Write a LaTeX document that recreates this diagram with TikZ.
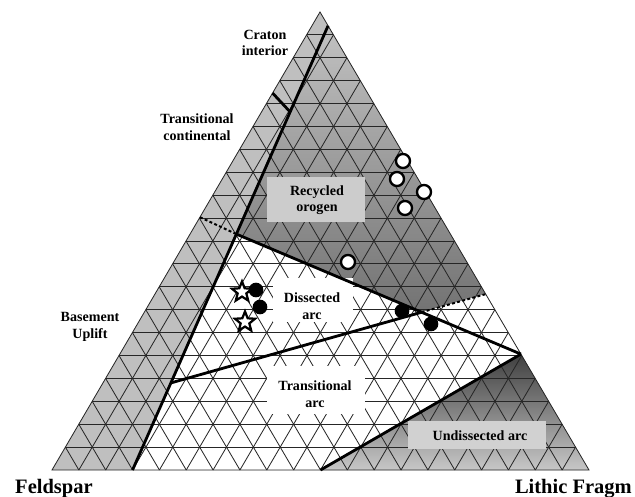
\documentclass[tikz,border=0pt]{standalone}
\usepackage{fontspec}
\setmainfont{Liberation Serif}
\usetikzlibrary{shapes.geometric,calc}
\begin{document}
\begin{tikzpicture}[x=0.03cm,y=-0.03cm,
  grid/.style={black!85,line width=0.7pt},
  bnd/.style={line width=2.4pt},
  dsh/.style={line width=1.7pt,dash pattern=on 2.5pt off 2pt},
  lab/.style={font=\bfseries\fontsize{12}{14}\selectfont,align=center,inner sep=1pt},
  big/.style={font=\bfseries\fontsize{17.5}{18}\selectfont,inner sep=0pt},
  box/.style={inner sep=0pt},
  opn/.style={circle,draw,fill=white,line width=2pt,minimum size=12pt,inner sep=0pt},
  ful/.style={circle,fill=black,minimum size=12.5pt,inner sep=0pt},
  str/.style={star,star points=5,star point ratio=2.3,draw,fill=white,line width=1.9pt,minimum size=18pt,inner sep=0pt}]
\useasboundingbox (0,0) rectangle (635,497);
\coordinate (F) at (52,470);
\coordinate (L) at (589,470);
\coordinate (Q) at (320,12);
\coordinate (thkB) at (barycentric cs:F=0.85,L=0.15);
\coordinate (thkT) at (barycentric cs:L=0.03,Q=0.97);
\coordinate (p1) at ($(thkB)!0.531!(thkT)$);
\coordinate (p2) at ($(thkB)!0.196!(thkT)$);
\coordinate (tk1) at (barycentric cs:F=0.177,Q=0.823);
\coordinate (tk2) at ($(thkB)!0.806!(thkT)$);
\coordinate (d1) at (barycentric cs:F=0.448,Q=0.552);
\coordinate (R2) at (barycentric cs:L=0.616,Q=0.384);
\coordinate (arcR) at (barycentric cs:L=0.747,Q=0.253);
\coordinate (U) at (barycentric cs:F=0.5,L=0.5);
\coordinate (X) at (intersection of p1--arcR and p2--R2);
\fill[black!25] (F) -- (L) -- (Q) -- cycle;
\shade[top color=black!24,bottom color=black!55] (thkT) -- (p1) -- (X) -- (R2) -- cycle;
\fill[white] (p1) -- (X) -- (R2) -- (arcR) -- (U) -- (thkB) -- cycle;
\shade[top color=black!75,bottom color=black!22] (arcR) -- (L) -- (U) -- cycle;
\foreach \i in {1,...,19}{
  \pgfmathsetmacro\a{\i/20}
  \pgfmathsetmacro\b{1-\i/20}
  \draw[grid] (barycentric cs:F=\b,Q=\a) -- (barycentric cs:L=\b,Q=\a);
  \draw[grid] (barycentric cs:F=\b,L=\a) -- (barycentric cs:Q=\b,L=\a);
  \draw[grid] (barycentric cs:L=\b,F=\a) -- (barycentric cs:Q=\b,F=\a);
}
\draw[grid] (F) -- (L) -- (Q) -- cycle;
\node[box,fill=black!20,minimum width=98*0.85pt,minimum height=45*0.85pt] (recbox) at (316,199.5) {};
\node[box,fill=white,minimum width=80*0.85pt,minimum height=44*0.85pt] (disbox) at (313,300) {};
\node[box,fill=white,minimum width=98*0.85pt,minimum height=48*0.85pt] (trabox) at (316,390) {};
\node[box,fill=black!18,minimum width=138*0.85pt,minimum height=28*0.85pt] (undbox) at (477,435) {};
\draw[bnd] (thkB) -- (thkT);
\draw[bnd] (tk1) -- (tk2);
\draw[dsh] (d1) -- (p1);
\draw[bnd] (p1) -- (arcR);
\draw[bnd] (p2) -- (X);
\draw[dsh] (X) -- (R2);
\draw[bnd] (arcR) -- (U);
\node[lab] (recycled) at (317,200) {Recycled\\orogen};
\node[lab] (dissected) at (312,306) {Dissected\\arc};
\node[lab] (transarc) at (315,394) {Transitional\\arc};
\node[lab] (undissected) at (480,436) {Undissected arc};
\node[lab] (craton) at (265,43) {Craton\\interior};
\node[lab] (transcont) at (197,127) {Transitional\\continental};
\node[lab] (basement) at (90,327) {Basement\\Uplift};
\node[big,anchor=base west] (feld) at (15,493) {Feldspar};
\node[big,anchor=base east] (lithic) at (632,493) {Lithic Fragm};
\node[opn] (o1) at (403,161) {};
\node[opn] (o2) at (397,179) {};
\node[opn] (o3) at (424,192) {};
\node[opn] (o4) at (405,208) {};
\node[opn] (o5) at (348,262) {};
\node[ful] (f1) at (256,290) {};
\node[ful] (f2) at (260,307) {};
\node[ful] (f3) at (402,311) {};
\node[ful] (f4) at (431,324) {};
\node[str] (s1) at (242,292) {};
\node[str] (s2) at (245,322) {};
\end{tikzpicture}
\end{document}
